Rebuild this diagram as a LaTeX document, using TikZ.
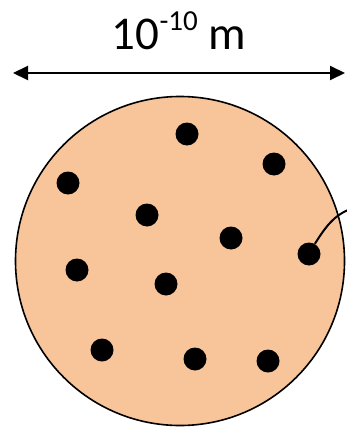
\documentclass[tikz,border=0pt]{standalone}
\usepackage{fontspec}
\setmainfont{Carlito}
\usetikzlibrary{arrows.meta}
\definecolor{peach}{RGB}{248,197,155}
\tikzset{
  dot/.style={circle,fill=black,inner sep=0pt,minimum size=23pt},
  atombody/.style={circle,draw=black,line width=1.6pt,fill=peach,inner sep=0pt,minimum size=329pt},
  dimline/.style={line width=2pt,{Triangle[length=15pt,width=14pt]}-{Triangle[length=15pt,width=14pt]}},
  lead/.style={line width=2pt}
}
\begin{document}
\begin{tikzpicture}[x=1pt,y=-1pt]
\useasboundingbox (0,0) rectangle (347,428);
\node[atombody] (atom) at (180,261) {};
\coordinate (la) at (13,73);
\coordinate (ra) at (345,73);
\draw[dimline] (la) -- (ra);
\node[anchor=base,inner sep=0pt] (lbl) at (179,50) {\fontsize{47}{50}\selectfont 10\raisebox{20pt}{\fontsize{29}{30}\selectfont -10} m};
\node[dot] (d1) at (187,134) {};
\node[dot] (d2) at (274,164) {};
\node[dot] (d3) at (68,183) {};
\node[dot] (d4) at (147,215) {};
\node[dot] (d5) at (231,238) {};
\node[dot] (d6) at (309,254) {};
\node[dot] (d7) at (77,270) {};
\node[dot] (d8) at (166,284) {};
\node[dot] (d9) at (102,350) {};
\node[dot] (d10) at (195,359) {};
\node[dot] (d11) at (268,361) {};
\coordinate (lend) at (348,210);
\draw[lead] (d6.60) .. controls (326,226) and (334,216) .. (lend);
\end{tikzpicture}
\end{document}
